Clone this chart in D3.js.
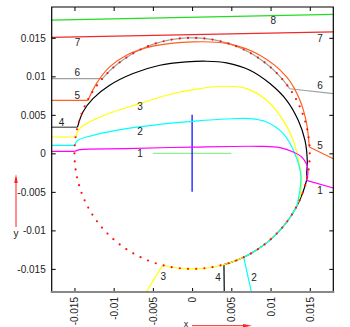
<!DOCTYPE html>
<html>
<head>
<meta charset="utf-8">
<script src="https://cdn.jsdelivr.net/npm/d3@7"></script>
<style>
  body { margin: 0; background: #fff; }
  svg { display: block; font-family: "Liberation Sans", Arial, sans-serif; }
</style>
</head>
<body>
<div id="chart"></div>
<script>
const width = 350, height = 327;

// axis ticks
const xTicks = [-0.015, -0.01, -0.005, 0, 0.005, 0.01, 0.015];
const xTickLabels = ["-0.015", "-0.01", "-0.005", "0", "0.005", "0.01", "0.015"];
const yTicks = [-0.015, -0.01, -0.005, 0, 0.005, 0.01, 0.015];
const yTickLabels = ["-0.015", "-0.01", "-0.005", "0", "0.005", "0.01", "0.015"];

// wall radius
const wallR = 0.015;

// incoming horizontal rays 1..6: y level and point where they hit the wall
const entryY = [0.00026, 0.00104, 0.00212, 0.0034, 0.00687, 0.0097];
const entryX = [-0.01498, -0.01496, -0.01485, -0.01461, -0.01328, -0.01136];

// free flight inside the wall
const inner1 = [[-0.01434, 0.00048], [-0.00837, 0.00061], [0.00013, 0.00082], [0.00864, 0.00091],
  [0.0112, 0.00074], [0.01289, 0.00017], [0.01397, -0.00048], [0.01468, -0.00156]];
const inner2 = [[-0.01455, 0.00169], [-0.01264, 0.00234], [-0.00837, 0.00321], [-0.00412, 0.00377],
  [0.00013, 0.00416], [0.00439, 0.00446], [0.00737, 0.00451], [0.0095, 0.00407], [0.01162, 0.00256],
  [0.01311, -0.00004], [0.01384, -0.00264], [0.01375, -0.00481]];
const inner3 = [[-0.01434, 0.00321], [-0.01264, 0.00429], [-0.01009, 0.00537], [-0.00668, 0.00646],
  [-0.00327, 0.00754], [0.00013, 0.00828], [0.00396, 0.00871], [0.00694, 0.00841], [0.0095, 0.00689],
  [0.01162, 0.00429], [0.01289, 0.00169], [0.01375, -0.00178], [0.01397, -0.00351], [0.01375, -0.00568]];
const inner4 = [[-0.01392, 0.00537], [-0.01264, 0.00711], [-0.01051, 0.00884], [-0.00753, 0.01036],
  [-0.00412, 0.01144], [-0.00072, 0.01187], [0.00184, 0.01196], [0.00439, 0.01174], [0.00737, 0.01079],
  [0.00992, 0.00906], [0.01205, 0.00689], [0.01353, 0.00429], [0.01439, 0.00169], [0.01468, -0.00091],
  [0.0146, -0.00264]];
const inner5 = [[-0.0122, 0.00906], [-0.01051, 0.01122], [-0.00837, 0.01274], [-0.00498, 0.01391],
  [0.00013, 0.01447], [0.00439, 0.01427], [0.00864, 0.01274], [0.01205, 0.00992], [0.01375, 0.00689],
  [0.0146, 0.00386], [0.01494, 0.00082]];
const inner6 = [];

// sliding along the wall: [from, to] angle in degrees (null = none)
const wallArcs = [[-10, -13.5], [-27, -64], [-28, -104.5], [-12, -74.3], null, [139.5, 34]];

// outgoing end point
const exitPts = [[0.018, -0.0045], [0.00758, -0.0181], [-0.0059, -0.0181], [0.0041, -0.0181],
  [0.018, -0.0007], [0.018, 0.00776]];

// straight rays 7, 8 that miss the wall
const ray7 = [[-0.0179, 0.01505], [0.018, 0.01577]];
const ray8 = [[-0.0179, 0.0173], [0.018, 0.01804]];

// centre cross
const crossH = [[-0.005, 0], [0.005, 0]];
const crossV = [[0, 0.005], [0, -0.005]];

// curve labels [text, x, y]
const curveLabels = [
  ["1", -0.00664, 0], ["2", -0.00664, 0.0028], ["3", -0.00664, 0.00605], ["4", -0.01664, 0.00397],
  ["5", -0.01464, 0.00757], ["6", -0.01464, 0.01046], ["7", -0.0146, 0.01441],
  ["1", 0.0163, -0.00476], ["5", 0.0163, 0.00108], ["6", 0.0163, 0.00886], ["7", 0.0163, 0.01493],
  ["8", 0.01035, 0.0172], ["2", 0.00789, -0.01606], ["3", -0.00367, -0.01602], ["4", 0.0033, -0.01606]
];

const inners = [inner1, inner2, inner3, inner4, inner5, inner6];
const colors = ["#ff00ff", "#00ffff", "#ffff00", "#000000", "#ff6020", "#a0a0a0"];
const entryColors = ["#ff00ff", "#00ffff", "#ffff00", "#707070", "#ff6020", "#a0a0a0"];

let x = d3.scaleLinear().domain([-0.0179, 0.018]).range([51.7, 333.3]);
let y = d3.scaleLinear().domain([-0.018, 0.019]).range([292, 7]);

let svg = d3.select('#chart').append('svg')
  .attr('width', width)
  .attr('height', height);

let plot = svg.append('g');

let clip = svg.append('clipPath').attr('id', 'clip')
  .append('rect')
  .attr('x', x.range()[0]).attr('y', y.range()[1])
  .attr('width', x.range()[1] - x.range()[0])
  .attr('height', y.range()[0] - y.range()[1]);
plot.attr('clip-path', 'url(#clip)');

let straight = d3.line().x(d => x(d[0])).y(d => y(d[1]));
let smooth = d3.line().x(d => x(d[0])).y(d => y(d[1])).curve(d3.curveCatmullRom);

function wallPoint(deg) {
  let a = deg * Math.PI / 180;
  return [wallR * Math.cos(a), wallR * Math.sin(a)];
}

function addPath(pts, color, gen, w) {
  plot.append('path')
    .attr('d', (gen || straight)(pts))
    .attr('fill', 'none')
    .attr('stroke', color)
    .attr('stroke-width', w || 1.2)
    .attr('stroke-linejoin', 'round');
}

// rays 7, 8 and the cross
addPath(ray8, '#22dd22');
addPath(ray7, '#ee2a2a');
addPath(crossH, '#90ee90');
addPath(crossV, '#0000ff');

// rays 6 down to 1
for (let i = 5; i >= 0; i--) {
  let start = [x.invert(x.range()[0] - 2), entryY[i]];
  let hit = [entryX[i], entryY[i]];
  addPath([start, hit], entryColors[i], null, i == 3 ? 1.5 : 1.2);

  let last = hit;
  if (inners[i].length) {
    let pts = [hit].concat(inners[i]);
    addPath(pts, colors[i], smooth);
    last = pts[pts.length - 1];
  }
  if (wallArcs[i]) {
    let a0 = wallArcs[i][0], a1 = wallArcs[i][1];
    let step = a1 > a0 ? 1 : -1;
    let arc = d3.range(a0, a1, step).map(wallPoint);
    arc.push(wallPoint(a1));
    addPath([last].concat(arc), colors[i]);
    last = arc[arc.length - 1];
  }
  addPath([last, exitPts[i]], colors[i]);
}

// dotted wall
plot.append('g').selectAll('circle')
  .data(d3.range(0, 360, 4).map(wallPoint))
  .enter().append('circle')
  .attr('cx', d => x(d[0]))
  .attr('cy', d => y(d[1]))
  .attr('r', 1.1)
  .attr('fill', '#ff1010');

// curve numbers
svg.append('g').selectAll('text')
  .data(curveLabels)
  .enter().append('text')
  .attr('x', d => x(d[1]))
  .attr('y', d => y(d[2]))
  .attr('dy', '0.35em')
  .attr('text-anchor', 'middle')
  .attr('font-size', 10)
  .attr('fill', '#222')
  .text(d => d[0]);

// axes (ticks point inward)
let gx = svg.append('g').attr('transform', `translate(0,${y.range()[0]})`)
  .call(d3.axisBottom(x).tickValues(xTicks).tickFormat((d, i) => xTickLabels[i])
    .tickSizeInner(-4).tickSizeOuter(0).tickPadding(5));
gx.selectAll('text')
  .attr('transform', 'rotate(-90)')
  .attr('text-anchor', 'end')
  .attr('x', -5).attr('y', 0).attr('dy', '0.35em');

let gy = svg.append('g').attr('transform', `translate(${x.range()[0]},0)`)
  .call(d3.axisLeft(y).tickValues(yTicks).tickFormat((d, i) => yTickLabels[i])
    .tickSizeInner(-4).tickSizeOuter(0).tickPadding(6));

svg.append('g').attr('transform', `translate(0,${y.range()[1]})`)
  .call(d3.axisTop(x).tickValues(xTicks).tickFormat('').tickSizeInner(-4).tickSizeOuter(0));
svg.append('g').attr('transform', `translate(${x.range()[1]},0)`)
  .call(d3.axisRight(y).tickValues(yTicks).tickFormat('').tickSizeInner(-4).tickSizeOuter(0));

svg.selectAll('.domain').remove();
svg.selectAll('.tick line').attr('stroke', '#000');
svg.selectAll('.tick text').attr('font-size', 10).attr('fill', '#222')
  .attr('font-family', '"Liberation Sans", Arial, sans-serif');

// border
let x0 = x.range()[0], x1 = x.range()[1], yTop = y.range()[1], yBot = y.range()[0];
svg.append('path')
  .attr('d', `M${x0},${yBot} L${x0},${yTop} L${x1},${yTop} L${x1},${yBot}`)
  .attr('fill', 'none').attr('stroke', '#000').attr('stroke-width', 1.2);
svg.append('line')
  .attr('x1', x0 - 1).attr('x2', x1 + 1).attr('y1', yBot).attr('y2', yBot)
  .attr('stroke', '#888').attr('stroke-width', 2);

// axis names with arrows
svg.append('line').attr('x1', 16).attr('y1', 227).attr('x2', 16).attr('y2', 178)
  .attr('stroke', '#ff2020').attr('stroke-width', 1);
svg.append('path').attr('d', 'M16,174 L14.3,183 L17.7,183 Z').attr('fill', '#ff2020');
svg.append('text').attr('x', 16).attr('y', 237).attr('text-anchor', 'middle')
  .attr('font-size', 10).attr('fill', '#222').text('y');

svg.append('line').attr('x1', 192).attr('y1', 325.7).attr('x2', 248).attr('y2', 325.7)
  .attr('stroke', '#ff2020').attr('stroke-width', 1);
svg.append('path').attr('d', 'M252,325.7 L243,324 L243,327.4 Z').attr('fill', '#ff2020');
svg.append('text').attr('x', 186).attr('y', 326.5).attr('text-anchor', 'middle')
  .attr('font-size', 9).attr('fill', '#222').text('x');
</script>
</body>
</html>
